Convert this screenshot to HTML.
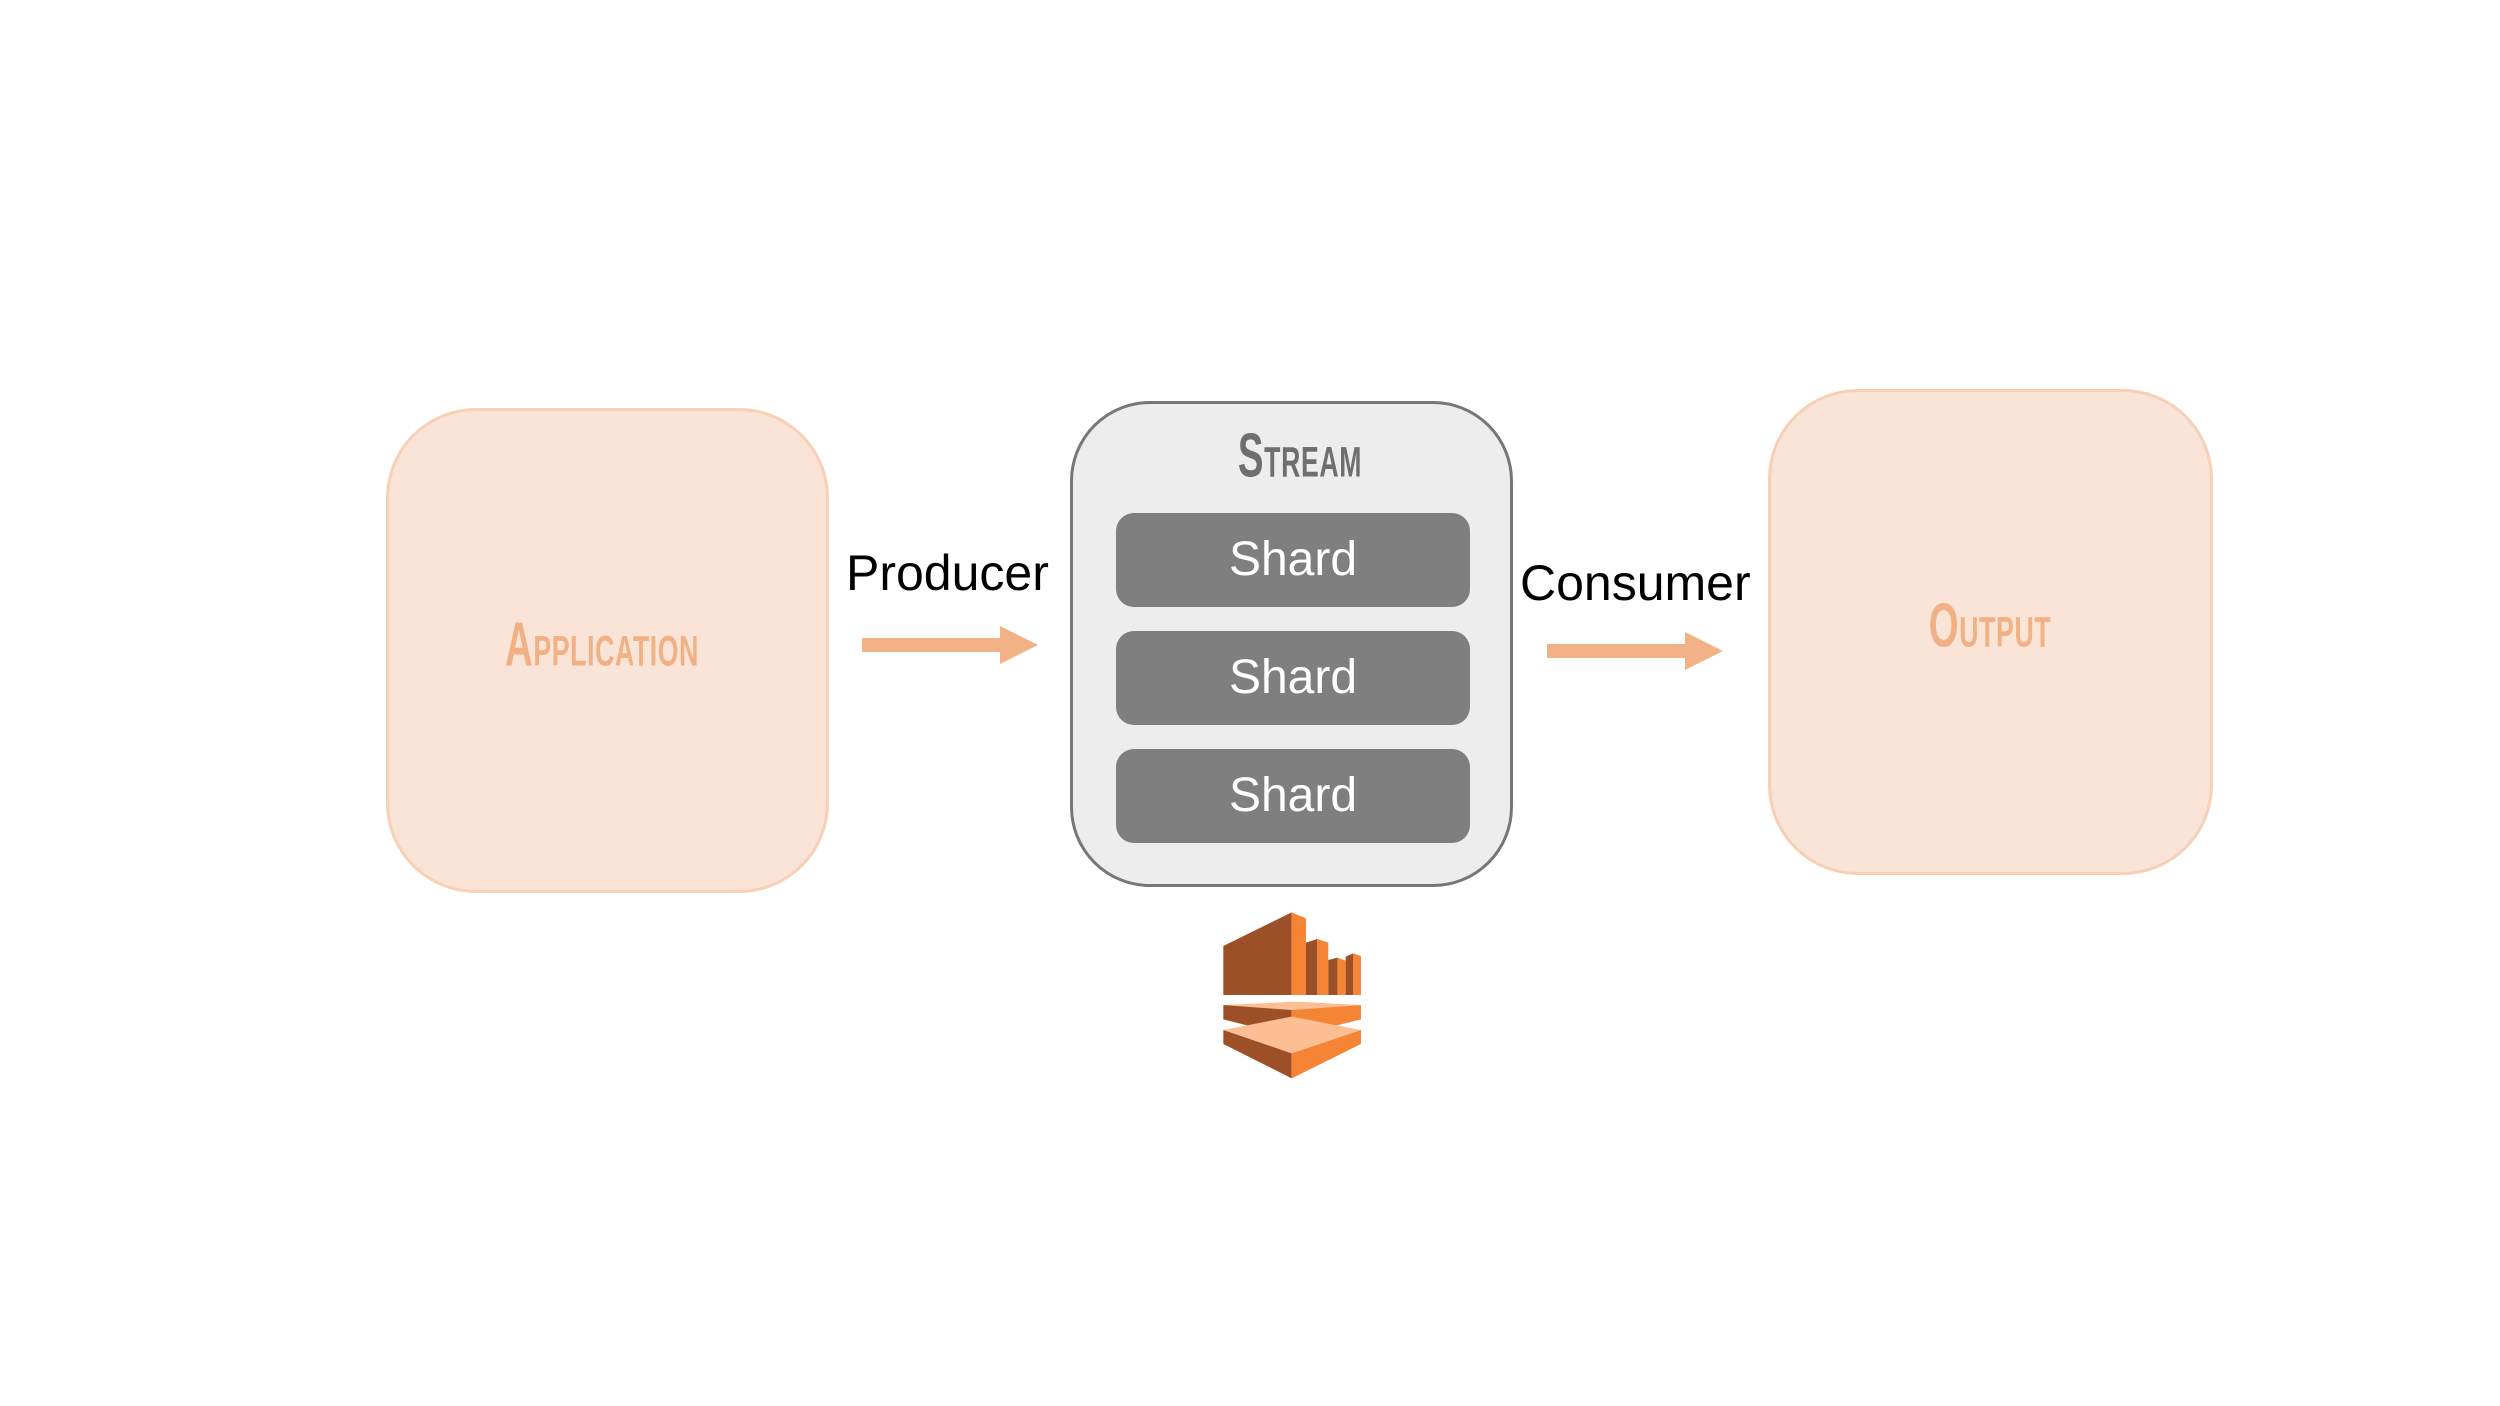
<!DOCTYPE html>
<html><head><meta charset="utf-8"><style>
html,body{margin:0;padding:0;background:#fff;}
body{width:2500px;height:1406px;position:relative;overflow:hidden;font-family:"Liberation Sans",sans-serif;}
.box{position:absolute;box-sizing:border-box;background:#fae4d7;border:3px solid #f8d0b5;border-radius:90px;}
.lbl{position:absolute;transform:translate(-50%,-50%) scaleX(0.62);font-weight:bold;font-variant:small-caps;white-space:nowrap;letter-spacing:1px;}
.shard{position:absolute;left:1116px;width:354px;height:94px;background:#7f7f7f;border-radius:18px;color:#fff;font-size:48px;text-align:center;line-height:94px;}
.t{position:absolute;font-size:50px;color:#000;white-space:nowrap;}
</style></head><body>
<div class="box" style="left:386px;top:408px;width:443px;height:485px;"></div>
<div class="lbl" style="left:602px;top:645px;font-size:62px;color:#f2b184;">Application</div>
<div class="box" style="left:1768px;top:389px;width:445px;height:486px;"></div>
<div class="lbl" style="left:1990px;top:626px;font-size:62px;color:#f2b184;">Output</div>
<div style="position:absolute;left:1070px;top:401px;width:443px;height:486px;box-sizing:border-box;background:#ededed;border:3px solid #777;border-radius:80px;"></div>
<div class="lbl" style="left:1300px;top:456px;font-size:62px;color:#6f6f6f;">Stream</div>
<div class="shard" style="top:513px;">Shard</div>
<div class="shard" style="top:631px;">Shard</div>
<div class="shard" style="top:749px;">Shard</div>
<div class="t" style="left:846px;top:544px;">Producer</div>
<div class="t" style="left:1520px;top:554px;">Consumer</div>
<svg style="position:absolute;left:0;top:0" width="2500" height="1406">
<rect x="862" y="638" width="140" height="14" fill="#f3b186"/>
<polygon points="1000,626 1038,645 1000,664" fill="#f3b186"/>
<rect x="1547" y="644" width="140" height="14" fill="#f3b186"/>
<polygon points="1685,632 1723,651 1685,670" fill="#f3b186"/>
<g transform="translate(1200,900) scale(0.3333)">
<polygon points="70,138 275,37 275,285 70,285" fill="#9d5027"/>
<polygon points="275,37 318,55 318,285 275,285" fill="#f58534"/>
<polygon points="318,128 352,117 352,285 318,285" fill="#9d5027"/>
<polygon points="352,117 385,128 385,285 352,285" fill="#f58534"/>
<polygon points="385,180 413,173 413,285 385,285" fill="#9d5027"/>
<polygon points="413,173 437,182 437,285 413,285" fill="#f58534"/>
<polygon points="437,170 460,160 460,285 437,285" fill="#9d5027"/>
<polygon points="460,160 483,168 483,285 460,285" fill="#f58534"/>
<polygon points="70,315 290,305 483,315 275,330" fill="#fbbf93"/>
<polygon points="70,315 275,330 275,410 70,358" fill="#9d5027"/>
<polygon points="275,330 483,315 483,358 275,410" fill="#f58534"/>
<polygon points="70,390 275,350 483,390 275,460" fill="#fbbf93"/>
<polygon points="70,390 275,460 275,535 70,432" fill="#9d5027"/>
<polygon points="275,460 483,390 483,432 275,535" fill="#f58534"/>
</g>
</svg>
</body></html>
